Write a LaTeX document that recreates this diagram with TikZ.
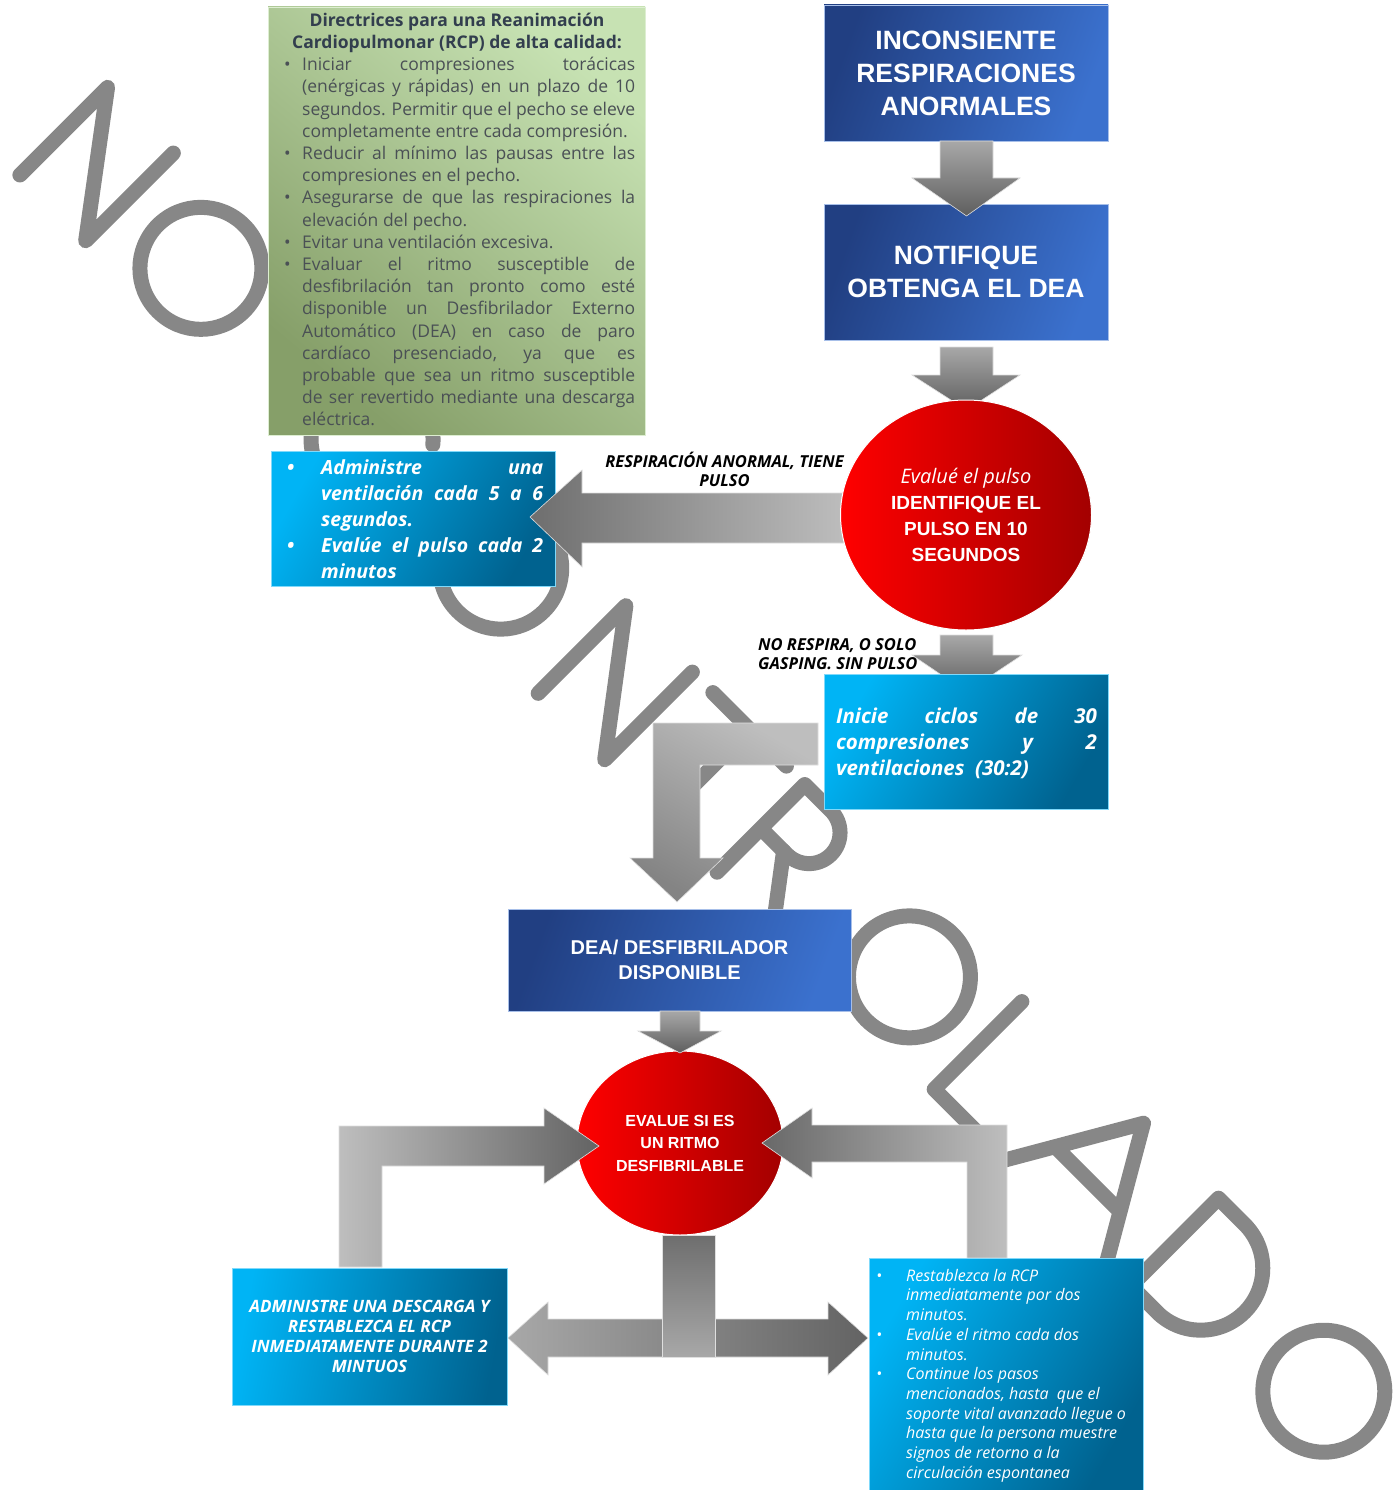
\documentclass[tikz,border=0pt]{standalone}
\usepackage{fontspec}
\setmainfont{Open Sans}
\newfontfamily\arialf{Liberation Sans}
\usetikzlibrary{shapes.geometric}
\definecolor{dblueL}{HTML}{213F82}
\definecolor{dblueR}{HTML}{3B71CE}
\definecolor{lblueL}{HTML}{00B4F5}
\definecolor{lblueR}{HTML}{00628F}
\definecolor{greenL}{HTML}{C7E2B3}
\definecolor{greenD}{HTML}{869F69}
\definecolor{redL}{HTML}{FF0000}
\definecolor{redR}{HTML}{A30000}
\definecolor{wm}{HTML}{878787}
\definecolor{ttl}{HTML}{323E4E}
\definecolor{bodyc}{HTML}{4A5055}
\definecolor{gA}{HTML}{A8A8A8}
\definecolor{gB}{HTML}{5E5E5E}
\definecolor{gC}{HTML}{BEBEBE}
\definecolor{gD}{HTML}{6E6E6E}
\newcommand\jl[2]{\makebox[#1][s]{#2}}
\begin{document}
\begin{tikzpicture}[x=1pt,y=-1pt,
  dbox/.style={rectangle, inner sep=0pt, left color=dblueL, right color=dblueR, shading angle=70, draw=dblueR!45!white, line width=0.7pt, text=white, align=center},
  lbox/.style={rectangle, inner sep=0pt, left color=lblueL, right color=lblueR, shading angle=60, draw=lblueL!50!white, line width=0.7pt},
  gbox/.style={rectangle, inner sep=0pt, top color=greenL, bottom color=greenD, shading angle=-40, draw=greenL!60!white, line width=0.7pt},
  rcirc/.style={ellipse, inner sep=0pt, left color=redL, right color=redR, draw=white, line width=1pt, text=white, align=center},
  txt/.style={inner sep=0pt, text=white},
  garrow/.style={draw=white!75!gray, line width=0.6pt},
  wml/.style={draw=wm, line width=15pt, line cap=round, line join=round}]
\useasboundingbox (0,0) rectangle (1392,1490);
\fill[white] (0,0) rectangle (1392,1490);

% watermark NO CONTROLADO
\begin{scope}[shift={(10,175)}, x={(0.7071pt,-0.7071pt)}, y={(0.7071pt,0.7071pt)}]
  \draw[wml] (7,7) -- (7,131) -- (100,7) -- (100,131);
  \draw[wml] (201,69) circle[radius=61];
  \draw[wml] (443,69) ++(40:61) arc[start angle=40, end angle=320, radius=61];
  \draw[wml] (625,69) circle[radius=61];
  \draw[wml] (740,7) -- (740,131) -- (834,7) -- (834,131);
  \draw[wml] (863,131) -- (967,131) (915,131) -- (915,7);
  \draw[wml] (993,7) -- (993,131) -- (1030,131) arc[start angle=90, end angle=-90, radius=31] -- (993,69);
  \draw[wml] (1025,69) -- (1072,7);
  \draw[wml] (1203,69) circle[radius=61];
  \draw[wml] (1300,131) -- (1300,7) -- (1368,7);
  \draw[wml] (1400,7) -- (1472,131) -- (1544,7) (1426,52) -- (1518,52);
  \draw[wml] (1578,7) -- (1578,131) -- (1615,131) arc[start angle=90, end angle=-90, radius=62] -- cycle;
  \draw[wml] (1789,69) circle[radius=61];
\end{scope}

% guideline box
\node[gbox, minimum width=377pt, minimum height=428pt] (guide) at (456.5,221) {};
\node[inner sep=0pt, text=ttl, align=center, anchor=north, font=\bfseries\fontsize{17.5}{22}\selectfont] (guidetitle) at (457,11) {\strut Directrices para una Reanimación\\Cardiopulmonar (RCP) de alta calidad:};
\node[inner sep=0pt, text=bodyc, align=left, anchor=north west, font=\fontsize{17.5}{22.2}\selectfont] (guidebody) at (284,55) {%
\strut\makebox[18pt][l]{•}\jl{333pt}{Iniciar compresiones torácicas}\\
\hspace*{18pt}\jl{333pt}{(enérgicas y rápidas) en un plazo de 10}\\
\hspace*{18pt}\jl{333pt}{segundos. Permitir que el pecho se eleve}\\
\hspace*{18pt}completamente entre cada compresión.\\
\makebox[18pt][l]{•}\jl{333pt}{Reducir al mínimo las pausas entre las}\\
\hspace*{18pt}compresiones en el pecho.\\
\makebox[18pt][l]{•}\jl{333pt}{Asegurarse de que las respiraciones la}\\
\hspace*{18pt}elevación del pecho.\\
\makebox[18pt][l]{•}Evitar una ventilación excesiva.\\
\makebox[18pt][l]{•}\jl{333pt}{Evaluar el ritmo susceptible de}\\
\hspace*{18pt}\jl{333pt}{desfibrilación tan pronto como esté}\\
\hspace*{18pt}\jl{333pt}{disponible un Desfibrilador Externo}\\
\hspace*{18pt}\jl{333pt}{Automático (DEA) en caso de paro}\\
\hspace*{18pt}\jl{333pt}{cardíaco presenciado, ya que es}\\
\hspace*{18pt}\jl{333pt}{probable que sea un ritmo susceptible}\\
\hspace*{18pt}\jl{333pt}{de ser revertido mediante una descarga}\\
\hspace*{18pt}eléctrica.};

% top boxes
\node[dbox, minimum width=284pt, minimum height=136pt, font=\arialf\bfseries\fontsize{26.5}{33}\selectfont] (inc) at (966,73) {INCONSIENTE\\RESPIRACIONES\\ANORMALES};
\node[dbox, minimum width=284pt, minimum height=136pt, font=\arialf\bfseries\fontsize{26.5}{33}\selectfont] (notif) at (966,272) {NOTIFIQUE\\OBTENGA EL DEA};
\shadedraw[garrow, top color=gA, bottom color=gB] (940,141) -- (993,141) -- (993,178) -- (1020,178) -- (966.5,216) -- (912,178) -- (940,178) -- cycle;

% ventilation box and arrow
\node[lbox, minimum width=284pt, minimum height=135pt] (vent) at (413,518.5) {};
\node[txt, align=left, anchor=north west, font=\bfseries\itshape\fontsize{19.5}{26}\selectfont] (venttxt) at (287,456) {%
\strut\makebox[34pt][l]{•}\jl{222pt}{Administre una}\\
\hspace*{34pt}\jl{222pt}{ventilación cada 5 a 6}\\
\hspace*{34pt}segundos.\\
\makebox[34pt][l]{•}\jl{222pt}{Evalúe el pulso cada 2}\\
\hspace*{34pt}minutos};
\shadedraw[garrow, left color=gD, right color=gC] (530,517) -- (582,470) -- (582,493) -- (848,493) -- (848,543) -- (582,543) -- (582,567) -- cycle;
\shadedraw[garrow, top color=gA, bottom color=gB] (940,347) -- (993,347) -- (993,375) -- (1020,375) -- (966.5,410) -- (912,375) -- (940,375) -- cycle;

% pulse circle
\node[rcirc, minimum width=251pt, minimum height=230pt, font=\arialf\bfseries\fontsize{19}{26}\selectfont] (pulse) at (966,515) {{\normalfont\itshape\fontsize{20}{26}\selectfont Evalué el pulso}\\IDENTIFIQUE EL\\PULSO EN 10\\SEGUNDOS};
\node[inner sep=0pt, align=center, font=\bfseries\itshape\fontsize{16.5}{19}\selectfont] (lblpulse) at (724.5,469.5) {RESPIRACIÓN ANORMAL, TIENE\\PULSO};

% CPR box
\shadedraw[garrow, top color=gA, bottom color=gB] (940,635) -- (993,635) -- (993,655) -- (1022,655) -- (966.5,692) -- (912,655) -- (940,655) -- cycle;
\node[lbox, minimum width=284pt, minimum height=135pt] (cpr) at (966,741.5) {};
\node[txt, align=left, font=\bfseries\itshape\fontsize{20.5}{26}\selectfont] (cprtxt) at (966.5,743) {%
\jl{261pt}{Inicie ciclos de 30}\\
\jl{261pt}{compresiones y 2}\\
ventilaciones\ \ (30:2)};
\node[inner sep=0pt, align=left, anchor=west, font=\bfseries\itshape\fontsize{16.5}{19}\selectfont] (lblnopulse) at (758,654.5) {NO RESPIRA, O SOLO\\GASPING. SIN PULSO};

% L arrow to DEA
\shadedraw[garrow, top color=gC, bottom color=gD!85!white, shading angle=-30] (818,723) -- (653,723) -- (653,858) -- (630,858) -- (677,902) -- (723,858) -- (700,858) -- (700,765) -- (818,765) -- cycle;

% DEA
\node[dbox, minimum width=343pt, minimum height=102pt, font=\arialf\bfseries\fontsize{20}{25}\selectfont] (dea) at (679.5,960) {DEA/ DESFIBRILADOR\\DISPONIBLE};
\node[rcirc, minimum width=206pt, minimum height=184pt, font=\arialf\bfseries\fontsize{16}{22.5}\selectfont] (rhythm) at (680,1143) {EVALUE SI ES\\UN RITMO\\DESFIBRILABLE};
\shadedraw[garrow, top color=gA, bottom color=gB] (660,1011) -- (700,1011) -- (700,1031) -- (721,1031) -- (680,1053) -- (638,1031) -- (660,1031) -- cycle;

% loop arrows
\shadedraw[garrow, left color=gC, right color=gD!90!black] (339,1267) -- (339,1126) -- (544,1126) -- (544,1108) -- (599,1146) -- (544,1184) -- (544,1166) -- (382,1166) -- (382,1267) -- cycle;
\shadedraw[garrow, left color=gD!95!black, right color=gC] (1007,1258) -- (1007,1125) -- (812,1125) -- (812,1108) -- (762,1143) -- (812,1178) -- (812,1162) -- (967,1162) -- (967,1258) -- cycle;
\shadedraw[garrow, left color=gA, right color=gD!90!black] (508,1338) -- (548,1302) -- (548,1319) -- (828,1319) -- (828,1302) -- (868,1338) -- (828,1375) -- (828,1357) -- (548,1357) -- (548,1375) -- cycle;
\shadedraw[garrow, top color=gD, bottom color=gA] (662,1235) rectangle (715,1357);

% bottom boxes
\node[lbox, shading angle=80, minimum width=275pt, minimum height=137pt, text=white, align=center, font=\bfseries\itshape\fontsize{17}{20}\selectfont] (shock) at (369.5,1336.5) {ADMINISTRE UNA DESCARGA Y\\RESTABLEZCA EL RCP\\INMEDIATAMENTE DURANTE 2\\MINTUOS};
\node[lbox, minimum width=274pt, minimum height=232pt] (cont) at (1006,1374) {};
\node[txt, align=left, anchor=north west, font=\itshape\fontsize{16}{19.7}\selectfont] (conttxt) at (876,1267.2) {%
\strut\makebox[30pt][l]{•}Restablezca la RCP\\
\hspace*{30pt}inmediatamente por dos\\
\hspace*{30pt}minutos.\\
\makebox[30pt][l]{•}Evalúe el ritmo cada dos\\
\hspace*{30pt}minutos.\\
\makebox[30pt][l]{•}Continue los pasos\\
\hspace*{30pt}mencionados, hasta\ \ que el\\
\hspace*{30pt}soporte vital avanzado llegue o\\
\hspace*{30pt}hasta que la persona muestre\\
\hspace*{30pt}signos de retorno a la\\
\hspace*{30pt}circulación espontanea};
\end{tikzpicture}
\end{document}
